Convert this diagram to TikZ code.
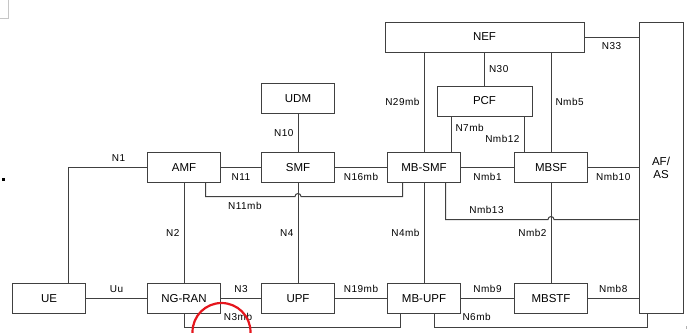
\documentclass[tikz,border=0pt]{standalone}
\usepackage{fontspec}
\setmainfont{Liberation Sans}
\usetikzlibrary{positioning}
\definecolor{LineGrey}{HTML}{404040}
\definecolor{MarkRed}{HTML}{E5161D}

\begin{document}
\begin{tikzpicture}[x=1pt,y=-1pt,
  nf/.style={rectangle,draw=LineGrey,line width=1pt,minimum width=73pt,
             minimum height=30pt,inner sep=0pt,align=center,
             font=\fontsize{11.5}{13}\selectfont},
  ln/.style={draw=LineGrey,line width=1pt},
  lbl/.style={font=\fontsize{10}{11}\selectfont\addfontfeatures{LetterSpace=5},
              inner xsep=4pt,inner ysep=5.5pt}]
\useasboundingbox (0,0) rectangle (688,332);
% bottom row
\node[nf] (UE) at (49,298.5) {UE};
\node[nf,right=61pt of UE] (NGRAN) {NG-RAN};
\node[nf,right=40pt of NGRAN] (UPF) {UPF};
\node[nf,right=52pt of UPF] (MBUPF) {MB-UPF};
\node[nf,right=53pt of MBUPF] (MBSTF) {MBSTF};
% middle row
\node[nf,above=100pt of NGRAN] (AMF) {AMF};
\node[nf,above=100pt of UPF] (SMF) {SMF};
\node[nf,above=100pt of MBUPF] (MBSMF) {MB-SMF};
\node[nf,above=100pt of MBSTF] (MBSF) {MBSF};
% top
\node[nf,above=38pt of SMF] (UDM) {UDM};
\node[nf,minimum width=95pt] (PCF) at (484.5,101) {PCF};
\node[nf,minimum width=199pt] (NEF) at (484.5,37) {NEF};
\node[nf,minimum width=44pt,minimum height=291pt] (AFAS) at (661,167.5) {AF/\\AS};
\coordinate (hopa) at (SMF.south |- 0,196.5);
\coordinate (hopb) at (MBSF.south |- 0,219.5);

% reference points
\draw[ln] ([xshift=19pt]UE.north) |- node[lbl,above,pos=0.82] (n1) {N1} (AMF);
\draw[ln] (AMF) -- node[lbl,below] (n11) {N11} (SMF);
\draw[ln] (SMF) -- node[lbl,below] (n16mb) {N16mb} (MBSMF);
\draw[ln] (MBSMF) -- node[lbl,below] (nmb1) {Nmb1} (MBSF);
\draw[ln] (MBSF) -- node[lbl,below] (nmb10) {Nmb10} (MBSF -| AFAS.west);
\draw[ln] (NEF) -- node[lbl,below] (n33) {N33} (NEF -| AFAS.west);
\draw[ln] (UDM) -- node[lbl,left] (n10) {N10} (SMF);
\draw[ln] (NEF) -- node[lbl,right] (n30) {N30} (PCF);
\draw[ln] (NEF.south -| MBSMF) -- node[lbl,left] (n29mb) {N29mb} (MBSMF);
\draw[ln] (NEF.south -| MBSF) -- node[lbl,right] (nmb5) {Nmb5} (MBSF);
\draw[ln] ([xshift=-10pt]MBSMF.north east) -- node[lbl,right,pos=0.68] (n7mb) {N7mb}
  ([xshift=-10pt]MBSMF.north east |- PCF.south);
\draw[ln] ([xshift=10pt]MBSF.north west) -- node[lbl,left,pos=0.38] (nmb12) {Nmb12}
  ([xshift=10pt]MBSF.north west |- PCF.south);
\draw[ln] (AMF) -- node[lbl,left] (n2) {N2} (NGRAN);
\draw[ln] (SMF) -- node[lbl,left] (n4) {N4} (UPF);
\draw[ln] (MBSMF) -- node[lbl,left] (n4mb) {N4mb} (MBUPF);
\draw[ln] (MBSF) -- node[lbl,left] (nmb2) {Nmb2} (MBSTF);
\draw[ln] ([xshift=21.5pt]AMF.south) |- node[lbl,below,pos=0.72] (n11mb) {N11mb}
  ([xshift=-3pt]hopa) arc[start angle=180,end angle=0,radius=3pt]
  -| ([xshift=-21.5pt]MBSMF.south);
\draw[ln] ([xshift=21.5pt]MBSMF.south) |- node[lbl,above,pos=0.7] (nmb13) {Nmb13}
  ([xshift=-3pt]hopb) arc[start angle=180,end angle=0,radius=3pt]
  -- (hopb -| AFAS.west);
\draw[ln] (UE) -- node[lbl,above] (uu) {Uu} (NGRAN);
\draw[ln] (NGRAN) -- node[lbl,above] (n3) {N3} (UPF);
\draw[ln] (UPF) -- node[lbl,above] (n19mb) {N19mb} (MBUPF);
\draw[ln] (MBUPF) -- node[lbl,above] (nmb9) {Nmb9} (MBSTF);
\draw[ln] (MBSTF) -- node[lbl,above] (nmb8) {Nmb8} (MBSTF -| AFAS.west);
\draw[ln] (NGRAN.south) -- ++(0,13) -| node[lbl,above,pos=0.125] (n3mb) {N3mb}
  ([xshift=-24pt]MBUPF.south);
\draw[ln] ([xshift=10pt]MBUPF.south) -- ++(0,13) -| node[lbl,above,pos=0.1] (n6mb) {N6mb}
  ([xshift=-14pt]AFAS.south);

% page marks
\draw[gray!45,line width=0.8pt] (0,18) -- (8,18) -- (8,0);
\fill (2,178) rectangle (5,181);
\draw[gray!60,line width=0.6pt] (686,326) -- (686,329);
\draw[MarkRed,line width=2.2pt] (221.5,332) circle[radius=29pt];
\end{tikzpicture}
\end{document}
